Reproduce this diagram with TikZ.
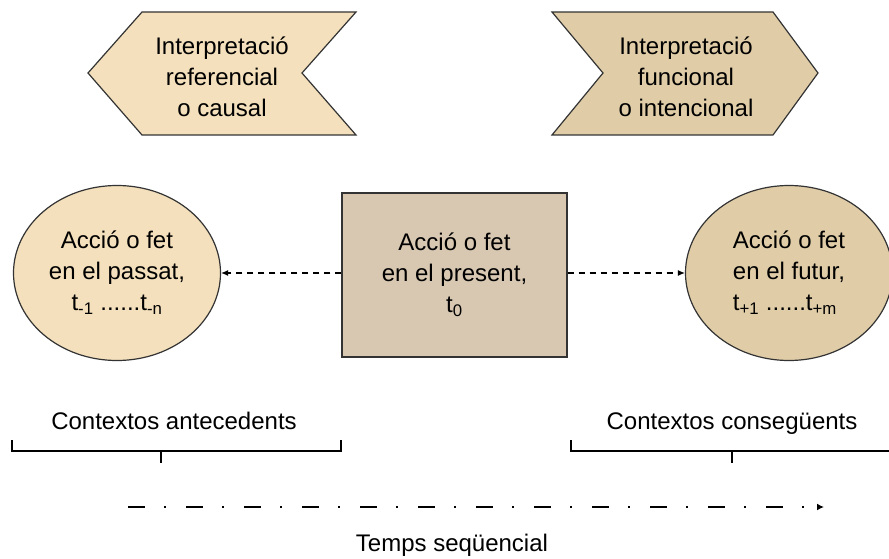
\documentclass[tikz,border=0pt]{standalone}
\usepackage{fontspec}
\setmainfont{Liberation Sans}
\usetikzlibrary{arrows.meta,shapes.geometric}
\definecolor{pastcol}{HTML}{F4E0BC}
\definecolor{futcol}{HTML}{E0CDA8}
\definecolor{nowcol}{HTML}{D8C8B2}
\definecolor{edgecol}{HTML}{333333}
\tikzset{
	txt/.style={font=\fontsize{24}{31}\selectfont, align=center, inner sep=0pt},
	label/.style={txt, text height=18pt, text depth=5pt},
	oval/.style={txt, draw=edgecol, line width=1.2pt, ellipse, minimum width=207pt, minimum height=175pt},
	chev/.style={draw=edgecol, line width=1.2pt},
	link/.style={dash pattern=on 6pt off 5pt, line width=1.1pt, -{Latex[length=7pt,width=6pt]}},
	brace/.style={line width=1.1pt}
}
\begin{document}
\begin{tikzpicture}[x=1pt, y=-1pt]
	\useasboundingbox (0,0) rectangle (889,559);
	% interpretacions
	\draw[chev, fill=pastcol] (142,12) -- (356,12) -- (302,73) -- (356,135) -- (142,135) -- (88,73) -- cycle;
	\draw[chev, fill=futcol] (552,12) -- (773,12) -- (818,73) -- (773,135) -- (552,135) -- (603,73) -- cycle;
	\node[txt] (causal) at (222,77) {Interpretació\\referencial\\o causal};
	\node[txt] (intenc) at (686,77) {Interpretació\\funcional\\o intencional};
	% accions
	\node[oval, fill=pastcol] (past) at (117,273) {Acció o fet\\en el passat,\\t\textsubscript{-1} ......t\textsubscript{-n}};
	\node[txt, draw=edgecol, line width=1.2pt, fill=nowcol, minimum width=225pt, minimum height=164pt] (now) at (454.5,275) {Acció o fet\\en el present,\\t\textsubscript{0}};
	\node[oval, fill=futcol, align=left] (fut) at (789,273) {Acció o fet\\en el futur,\\t\textsubscript{+1} ......t\textsubscript{+m}};
	\draw[link] (now.west |- past.east) -- (past.east);
	\draw[link] (now.east |- fut.west) -- (fut.west);
	% contextos
	\node[label] (ante) at (174,423) {Contextos antecedents};
	\node[label] (conse) at (732,423) {Contextos conseg\"uents};
	\draw[brace] (12,440) -- (12,451) -- (341,451) -- (341,440);
	\draw[brace] (161,451) -- (161,463);
	\draw[brace] (571,440) -- (571,451) -- (889,451);
	\draw[brace] (732,451) -- (732,463);
	% temps
	\coordinate (tstart) at (128,507);
	\coordinate (tend) at (824,507);
	\draw[dash pattern=on 17pt off 19pt on 2pt off 20pt, line width=1.8pt, -{Latex[length=7pt,width=7pt]}] (tstart) -- (tend);
	\node[txt] (temps) at (452,545) {Temps seqüencial};
\end{tikzpicture}
\end{document}
